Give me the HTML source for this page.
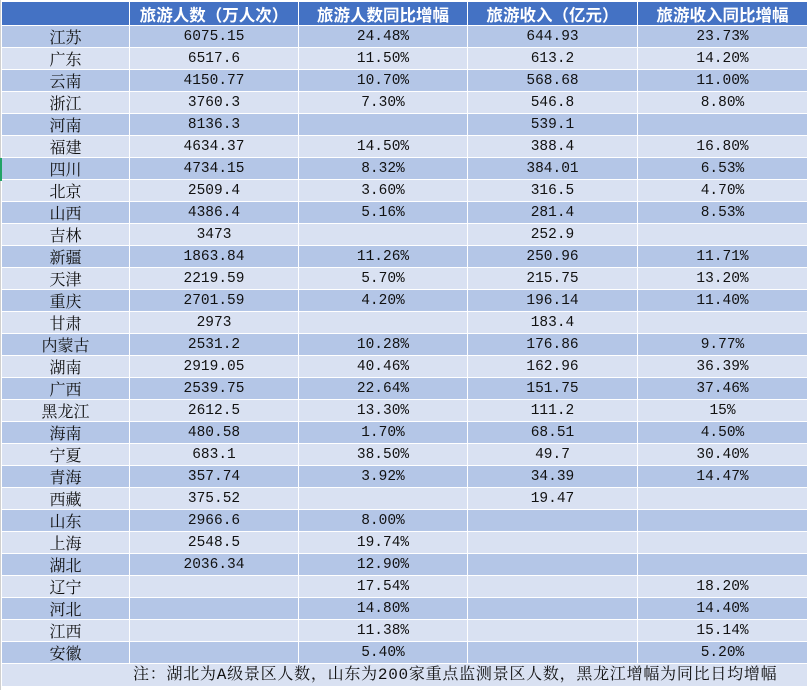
<!DOCTYPE html>
<html><head><meta charset="utf-8"><style>
html,body{margin:0;padding:0;background:#fff;width:809px;height:690px;overflow:hidden;position:relative}
table{position:absolute;left:1px;top:1px;border-collapse:collapse;table-layout:fixed;width:806px}
td{border:1px solid #fff;padding:0;text-align:center;height:21px;font-family:"Liberation Mono","Noto Serif CJK SC","Noto Sans CJK SC",monospace;font-size:14.5px;color:#111;line-height:20px;white-space:nowrap;overflow:hidden}
td.c{font-family:"Noto Serif CJK SC","Noto Sans CJK SC",serif;font-size:16px}
tr.h td{background:#4472C4;color:#fff;font-family:"Noto Sans CJK SC",sans-serif;font-weight:bold;font-size:16.5px;height:23px;border-top:1px solid #fff}
tr.o td{background:#B4C6E7}
tr.e td{background:#D9E1F2}
tr.n td{background:#D9E1F2;text-align:left;padding-left:131px;font-family:"Liberation Mono","Noto Serif CJK SC","Noto Sans CJK SC",monospace;font-size:16px;letter-spacing:0.75px;height:22px}
.g{position:absolute;left:0;top:158px;width:2px;height:23px;background:#21a366}
.l{position:absolute;left:0;top:0;width:1px;height:690px;background:#d0d0d0}
</style></head><body>
<div class="l"></div>
<table>
<colgroup><col style="width:128px"><col style="width:169px"><col style="width:169px"><col style="width:170px"><col style="width:170px"></colgroup>
<tr class="h"><td></td><td>旅游人数（万人次）</td><td>旅游人数同比增幅</td><td>旅游收入（亿元）</td><td>旅游收入同比增幅</td></tr>
<tr class="o"><td class="c">江苏</td><td>6075.15</td><td>24.48%</td><td>644.93</td><td>23.73%</td></tr>
<tr class="e"><td class="c">广东</td><td>6517.6</td><td>11.50%</td><td>613.2</td><td>14.20%</td></tr>
<tr class="o"><td class="c">云南</td><td>4150.77</td><td>10.70%</td><td>568.68</td><td>11.00%</td></tr>
<tr class="e"><td class="c">浙江</td><td>3760.3</td><td>7.30%</td><td>546.8</td><td>8.80%</td></tr>
<tr class="o"><td class="c">河南</td><td>8136.3</td><td></td><td>539.1</td><td></td></tr>
<tr class="e"><td class="c">福建</td><td>4634.37</td><td>14.50%</td><td>388.4</td><td>16.80%</td></tr>
<tr class="o"><td class="c">四川</td><td>4734.15</td><td>8.32%</td><td>384.01</td><td>6.53%</td></tr>
<tr class="e"><td class="c">北京</td><td>2509.4</td><td>3.60%</td><td>316.5</td><td>4.70%</td></tr>
<tr class="o"><td class="c">山西</td><td>4386.4</td><td>5.16%</td><td>281.4</td><td>8.53%</td></tr>
<tr class="e"><td class="c">吉林</td><td>3473</td><td></td><td>252.9</td><td></td></tr>
<tr class="o"><td class="c">新疆</td><td>1863.84</td><td>11.26%</td><td>250.96</td><td>11.71%</td></tr>
<tr class="e"><td class="c">天津</td><td>2219.59</td><td>5.70%</td><td>215.75</td><td>13.20%</td></tr>
<tr class="o"><td class="c">重庆</td><td>2701.59</td><td>4.20%</td><td>196.14</td><td>11.40%</td></tr>
<tr class="e"><td class="c">甘肃</td><td>2973</td><td></td><td>183.4</td><td></td></tr>
<tr class="o"><td class="c">内蒙古</td><td>2531.2</td><td>10.28%</td><td>176.86</td><td>9.77%</td></tr>
<tr class="e"><td class="c">湖南</td><td>2919.05</td><td>40.46%</td><td>162.96</td><td>36.39%</td></tr>
<tr class="o"><td class="c">广西</td><td>2539.75</td><td>22.64%</td><td>151.75</td><td>37.46%</td></tr>
<tr class="e"><td class="c">黑龙江</td><td>2612.5</td><td>13.30%</td><td>111.2</td><td>15%</td></tr>
<tr class="o"><td class="c">海南</td><td>480.58</td><td>1.70%</td><td>68.51</td><td>4.50%</td></tr>
<tr class="e"><td class="c">宁夏</td><td>683.1</td><td>38.50%</td><td>49.7</td><td>30.40%</td></tr>
<tr class="o"><td class="c">青海</td><td>357.74</td><td>3.92%</td><td>34.39</td><td>14.47%</td></tr>
<tr class="e"><td class="c">西藏</td><td>375.52</td><td></td><td>19.47</td><td></td></tr>
<tr class="o"><td class="c">山东</td><td>2966.6</td><td>8.00%</td><td></td><td></td></tr>
<tr class="e"><td class="c">上海</td><td>2548.5</td><td>19.74%</td><td></td><td></td></tr>
<tr class="o"><td class="c">湖北</td><td>2036.34</td><td>12.90%</td><td></td><td></td></tr>
<tr class="e"><td class="c">辽宁</td><td></td><td>17.54%</td><td></td><td>18.20%</td></tr>
<tr class="o"><td class="c">河北</td><td></td><td>14.80%</td><td></td><td>14.40%</td></tr>
<tr class="e"><td class="c">江西</td><td></td><td>11.38%</td><td></td><td>15.14%</td></tr>
<tr class="o"><td class="c">安徽</td><td></td><td>5.40%</td><td></td><td>5.20%</td></tr>
<tr class="n"><td colspan="5">注：湖北为A级景区人数，山东为200家重点监测景区人数，黑龙江增幅为同比日均增幅</td></tr>
</table>
<div class="g"></div>
</body></html>
